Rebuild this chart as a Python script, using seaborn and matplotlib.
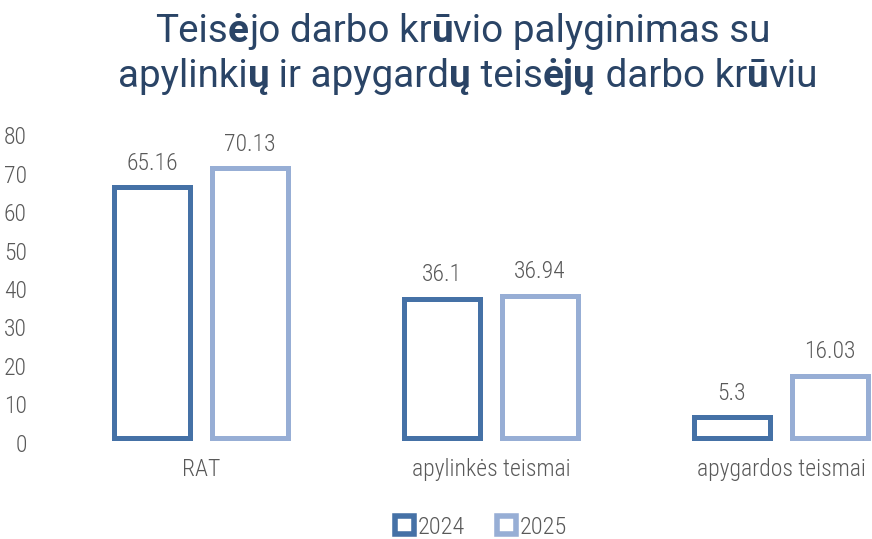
import matplotlib
matplotlib.use("Agg")
import matplotlib.pyplot as plt
import matplotlib.transforms as mtransforms
import seaborn as sns
import pandas as pd
from matplotlib.patches import Patch

categories = ["RAT", "apylinkės teismai", "apygardos teismai"]
years = ["2024", "2025"]
values_2024 = [65.16, 36.1, 5.3]
values_2025 = [70.13, 36.94, 16.03]
label_2024 = ["65.16", "36.1", "5.3"]
label_2025 = ["70.13", "36.94", "16.03"]
yticks = [0, 10, 20, 30, 40, 50, 60, 70, 80]
# title split into runs: (text, bold)
title_line1 = [("Teis", False), ("ė", True), ("jo darbo kr", False), ("ū", True), ("vio palyginimas su", False)]
title_line2 = [("apylinki", False), ("ų", True), (" ir apygard", False), ("ų", True), (" teis", False),
               ("ėjų", True), (" darbo kr", False), ("ū", True), ("viu", False)]

df = pd.DataFrame({
    "cat": categories * 2,
    "year": [years[0]] * 3 + [years[1]] * 3,
    "val": values_2024 + values_2025,
})

sns.set_theme(style="white")
FONT = ["Roboto Condensed", "Roboto", "DejaVu Sans"]
TFONT = ["Roboto", "DejaVu Sans"]
plt.rcParams["font.family"] = FONT
LW = 300

c24 = "#4571A6"
c25 = "#97AED5"
gray = "#595959"
navy = "#2A4466"

W, H = 872, 539
fig = plt.figure(figsize=(W / 100, H / 100), dpi=100)
left_px, right_px = 56, 872
top_px, bottom_px = 130.5, 437.5
ax = fig.add_axes([left_px / W, 1 - bottom_px / H, (right_px - left_px) / W, (bottom_px - top_px) / H])

sns.barplot(data=df, x="cat", y="val", hue="year", order=categories, hue_order=years,
            palette=[c24, c25], fill=False, width=0.676, gap=0.225, linewidth=3.6,
            legend=False, ax=ax, errorbar=None)

for cont, labs in zip(ax.containers, [label_2024, label_2025]):
    for p in cont:
        p.set_clip_on(False)
        p.set_joinstyle("miter")
    ax.bar_label(cont, labels=labs, padding=9, fontsize=17, color=gray, fontweight=LW)

ax.set_xlim(-0.5, 2.314)
ax.set_ylim(0, 80)
ax.set_yticks(yticks)
ax.set_yticklabels([str(v) for v in yticks], fontsize=17, color=gray, fontweight=LW)
ax.tick_params(axis="y", length=0, pad=21)
ax.tick_params(axis="x", length=0, pad=15)
for lab in ax.get_xticklabels():
    lab.set_fontsize(17)
    lab.set_color(gray)
    lab.set_fontweight(LW)
shift = mtransforms.ScaledTranslation(0, -5 / 100, fig.dpi_scale_trans)
for lab in ax.get_yticklabels():
    lab.set_transform(lab.get_transform() + shift)
ax.set_xlabel("")
ax.set_ylabel("")
sns.despine(ax=ax, left=True, bottom=True)


def rich_line(runs, xc_px, base_px, size):
    texts = []
    for s, bold in runs:
        t = fig.text(0, 1 - base_px / H, s, ha="left", va="baseline", fontsize=size, color=navy,
                     family=TFONT, fontweight=700 if bold else 400)
        texts.append(t)
    r = fig.canvas.get_renderer()
    widths = [t.get_window_extent(r).width for t in texts]
    total = sum(widths)
    x = xc_px - total / 2
    for t, w in zip(texts, widths):
        t.set_x(x / W)
        x += w


rich_line(title_line1, 463, 42, 27.8)
rich_line(title_line2, 468, 87, 27.8)

handles = [Patch(facecolor="white", edgecolor=c, linewidth=4, label=y) for c, y in zip([c24, c25], years)]
fig.legend(handles=handles, loc="center", bbox_to_anchor=(481 / W, 1 - 527 / H), ncol=2,
           frameon=False, prop={"family": FONT, "size": 17.5, "weight": LW}, labelcolor=gray,
           handlelength=0.8, handleheight=0.8, handletextpad=0.15, columnspacing=1.3)

fig.savefig("out.png", dpi=100)
